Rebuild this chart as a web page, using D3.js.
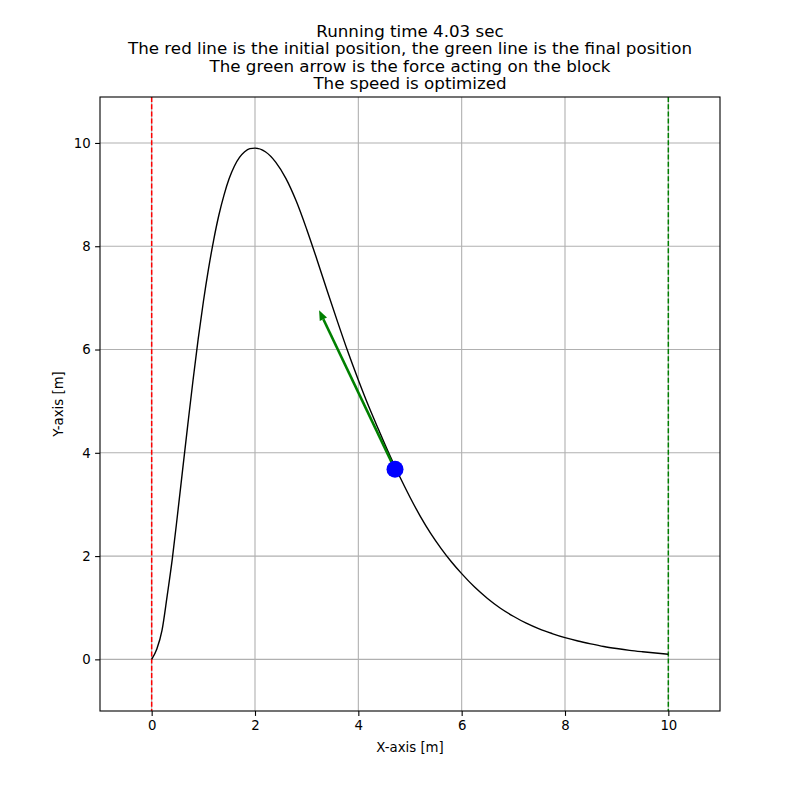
<!DOCTYPE html>
<html>
<head>
<meta charset="utf-8">
<script src="https://cdn.jsdelivr.net/npm/d3@7"></script>
<style>
  body { margin: 0; background: #fff; }
  text { font-family: "DejaVu Sans", sans-serif; fill: #000; }
</style>
</head>
<body>
<svg width="800" height="800"></svg>
<script>
// path of the block
var pathX = [0, 0.1, 0.2, 0.3, 0.4, 0.5, 0.6, 0.7, 0.8, 0.9, 1.0, 1.1, 1.2, 1.3, 1.4, 1.5, 1.6, 1.7, 1.8, 1.9,
             2.0, 2.2, 2.4, 2.6, 2.8, 3.0, 3.2, 3.4, 3.6, 3.8, 4.0, 4.2, 4.4, 4.6, 4.8,
             5.0, 5.2, 5.4, 5.6, 5.8, 6.0, 6.25, 6.5, 6.75, 7.0, 7.25, 7.5, 7.75, 8.0,
             8.25, 8.5, 8.75, 9.0, 9.25, 9.5, 9.75, 10.0];
var pathY = [0, 0.2, 0.56, 1.23, 1.95, 2.8, 3.68, 4.55, 5.4, 6.2, 6.92, 7.56, 8.12, 8.6, 8.99, 9.31, 9.55, 9.72, 9.83, 9.89,
             9.9, 9.83, 9.63, 9.31, 8.87, 8.33, 7.74, 7.13, 6.53, 5.95, 5.41, 4.9, 4.43, 3.97, 3.54,
             3.14, 2.77, 2.44, 2.15, 1.89, 1.66, 1.4, 1.18, 0.99, 0.835, 0.7, 0.59, 0.5, 0.42,
             0.355, 0.3, 0.25, 0.21, 0.175, 0.147, 0.122, 0.1];

var startX = 0, endX = 10;
var block = [4.71, 3.68];
var force = [3.24, 6.76];   // arrow tip
var xTicks = [0, 2, 4, 6, 8, 10];
var yTicks = [0, 2, 4, 6, 8, 10];
var titleLines = [
  "Running time 4.03 sec",
  "The red line is the initial position, the green line is the final position",
  "The green arrow is the force acting on the block",
  "The speed is optimized"
];

var svg = d3.select("svg");
var pL = 100, pR = 720, pT = 97, pB = 711;

var x = d3.scaleLinear().domain([-1, 11]).range([pL, pR]);
var y = d3.scaleLinear().domain([-1, 10.89]).range([pB, pT]);

// grid
svg.append("g").selectAll("line")
    .data(xTicks).enter().append("line")
    .attr("x1", d => x(d)).attr("x2", d => x(d))
    .attr("y1", pT).attr("y2", pB)
    .style("stroke", "#b0b0b0").style("stroke-width", 1.1);
svg.append("g").selectAll("line")
    .data(yTicks).enter().append("line")
    .attr("y1", d => y(d)).attr("y2", d => y(d))
    .attr("x1", pL).attr("x2", pR)
    .style("stroke", "#b0b0b0").style("stroke-width", 1.1);

// start / end lines
svg.append("line")
    .attr("x1", x(startX)).attr("x2", x(startX)).attr("y1", pT).attr("y2", pB)
    .style("stroke", "red").style("stroke-width", 1.5).style("stroke-dasharray", "5,2.2");
svg.append("line")
    .attr("x1", x(endX)).attr("x2", x(endX)).attr("y1", pT).attr("y2", pB)
    .style("stroke", "green").style("stroke-width", 1.5).style("stroke-dasharray", "5,2.2");

// curve
var line = d3.line()
    .x(function(d, i) { return x(d); })
    .y(function(d, i) { return y(pathY[i]); })
    .curve(d3.curveMonotoneX);
svg.append("path")
    .attr("d", line(pathX))
    .style("fill", "none").style("stroke", "black").style("stroke-width", 1.4);

// force arrow
var x0 = x(block[0]), y0 = y(block[1]), x1 = x(force[0]), y1 = y(force[1]);
var ang = Math.atan2(y1 - y0, x1 - x0);
var headLen = 10, headW = 4;
var bx = x1 - headLen * Math.cos(ang), by = y1 - headLen * Math.sin(ang);
svg.append("line")
    .attr("x1", x0).attr("y1", y0).attr("x2", bx).attr("y2", by)
    .style("stroke", "green").style("stroke-width", 2.6);
svg.append("polygon")
    .attr("points", [
      [x1, y1],
      [bx + headW * Math.sin(ang), by - headW * Math.cos(ang)],
      [bx - headW * Math.sin(ang), by + headW * Math.cos(ang)]
    ].map(p => p.join(",")).join(" "))
    .style("fill", "green");

// block
svg.append("circle")
    .attr("cx", x0).attr("cy", y0).attr("r", 8.5)
    .style("fill", "blue");

// axes
svg.append("g")
    .attr("transform", "translate(0," + pB + ")")
    .call(d3.axisBottom(x).tickValues(xTicks).tickSize(4.9).tickPadding(4.5).tickFormat(d3.format("d")))
    .call(g => g.select(".domain").remove())
    .selectAll("text").style("font-size", "13.3px");
svg.append("g")
    .attr("transform", "translate(" + pL + ",0)")
    .call(d3.axisLeft(y).tickValues(yTicks).tickSize(4.9).tickPadding(4.5).tickFormat(d3.format("d")))
    .call(g => g.select(".domain").remove())
    .selectAll("text").style("font-size", "13.3px");
svg.selectAll(".tick line").style("stroke", "#000").style("stroke-width", 1.1);

svg.append("rect")
    .attr("x", pL).attr("y", pT).attr("width", pR - pL).attr("height", pB - pT)
    .style("fill", "none").style("stroke", "black").style("stroke-width", 1.1);

// labels
svg.append("text")
    .attr("x", (pL + pR) / 2).attr("y", 752)
    .attr("text-anchor", "middle").style("font-size", "13.3px")
    .text("X-axis [m]");
svg.append("text")
    .attr("transform", "translate(63," + ((pT + pB) / 2) + ") rotate(-90)")
    .attr("text-anchor", "middle").style("font-size", "13.3px")
    .text("Y-axis [m]");

svg.append("g").selectAll("text")
    .data(titleLines).enter().append("text")
    .attr("x", (pL + pR) / 2)
    .attr("y", (d, i) => 37 + i * 17.4)
    .attr("text-anchor", "middle").style("font-size", "16.7px")
    .text(d => d);
</script>
</body>
</html>
